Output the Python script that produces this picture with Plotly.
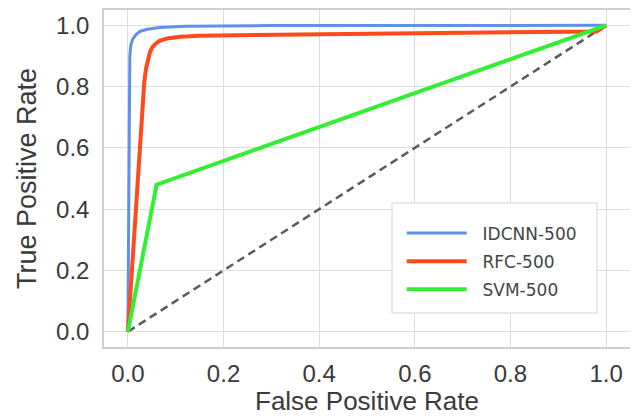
import plotly.graph_objects as go

# ---- data ----
idcnn_fpr = [0.0, 0.003, 0.004, 0.006, 0.010, 0.017, 0.025, 0.040, 0.067, 0.12, 0.30, 1.0]
idcnn_tpr = [0.0, 0.600, 0.900, 0.935, 0.955, 0.970, 0.980, 0.987, 0.993, 0.997, 0.999, 1.0]

rfc_fpr = [0.0, 0.024, 0.029, 0.034, 0.038, 0.042, 0.046, 0.051, 0.058, 0.067, 0.085, 0.11, 0.15, 0.36, 0.60, 0.78, 0.98, 1.0]
rfc_tpr = [0.0, 0.590, 0.700, 0.810, 0.860, 0.893, 0.912, 0.928, 0.940, 0.950, 0.958, 0.963, 0.966, 0.970, 0.974, 0.977, 0.980, 1.0]

svm_fpr = [0.0, 0.06, 1.0]
svm_tpr = [0.0, 0.48, 1.0]

chance = [0.0, 1.0]

series_names = ["IDCNN-500", "RFC-500", "SVM-500"]
series_colors = ["#6190ea", "#ff4a1c", "#33ee33"]

tick_vals = [0.0, 0.2, 0.4, 0.6, 0.8, 1.0]
tick_text = ["0.0", "0.2", "0.4", "0.6", "0.8", "1.0"]

fig = go.Figure()

fig.add_trace(go.Scatter(x=chance, y=chance, mode="lines", showlegend=False,
                         line=dict(color="#5a5a5a", width=2.5, dash="8px,5px"),
                         hoverinfo="skip"))

for i, (xs, ys, w) in enumerate([(idcnn_fpr, idcnn_tpr, 3), (rfc_fpr, rfc_tpr, 4), (svm_fpr, svm_tpr, 4)]):
    fig.add_trace(go.Scatter(x=xs, y=ys, mode="lines", name="\u00a0\u00a0" + series_names[i],
                             legendgroup=series_names[i],
                             line=dict(color=series_colors[i], width=w)))

axis_common = dict(
    range=[-0.05, 1.05], tickvals=tick_vals, ticktext=tick_text,
    showgrid=True, gridcolor="#dedede", gridwidth=1,
    showline=True, mirror=True, linecolor="#cfcfcf", linewidth=1.5,
    zeroline=False, ticks="outside", tickcolor="rgba(0,0,0,0)",
    tickfont=dict(family="Liberation Sans, Arial", size=24, color="#3a3a3a"),
    automargin=False,
)

# page body has an 8px margin, so the figure is shrunk by that much
fig.update_layout(
    width=630, height=408,
    margin=dict(l=96, r=8, t=2, b=69),
    paper_bgcolor="white", plot_bgcolor="white",
    xaxis=dict(**axis_common, ticklen=4,
               title=dict(text="False Positive Rate", standoff=7,
                          font=dict(family="Liberation Sans, Arial", size=26, color="#3a3a3a"))),
    yaxis=dict(**axis_common, ticklen=8,
               title=dict(text="True Positive Rate", standoff=12,
                          font=dict(family="Liberation Sans, Arial", size=27, color="#3a3a3a"))),
    legend=dict(x=0.566, y=0.39, xanchor="left", yanchor="top",
                bgcolor="rgba(0,0,0,0)", borderwidth=0,
                itemwidth=60, tracegroupgap=3,
                font=dict(family="DejaVu Sans", size=17, color="#444444")),
    shapes=[dict(type="rect", xref="paper", yref="paper",
                 x0=(392 - 104) / 526, x1=(597 - 104) / 526,
                 y0=(347 - 313) / 337, y1=(347 - 203) / 337,
                 line=dict(color="#e2e2e2", width=1.5), fillcolor="white", layer="above")],
)

fig.write_html("out.html")
